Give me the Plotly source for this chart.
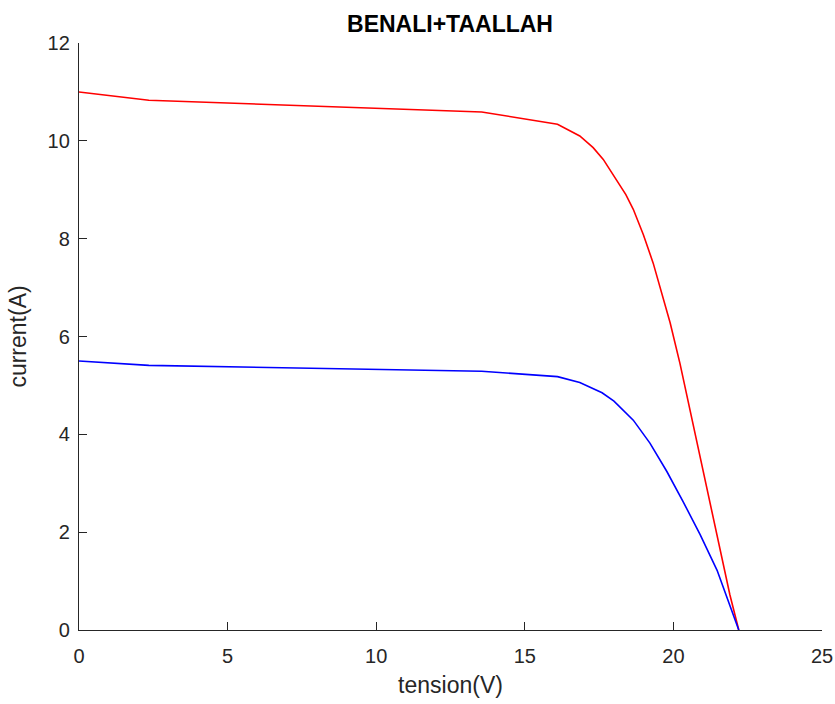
import plotly.graph_objects as go

# Data
v_red = [0, 2.35, 13.55, 16.1, 16.85, 17.3, 17.64, 18.08, 18.4, 18.65, 18.99, 19.32, 19.6, 19.89,
         20.22, 20.56, 20.9, 21.23, 21.57, 21.9, 22.2]
i_red = [11.0, 10.83, 10.59, 10.34, 10.10, 9.86, 9.62, 9.2, 8.9, 8.6, 8.08, 7.5, 6.92, 6.28,
         5.45, 4.5, 3.53, 2.58, 1.62, 0.72, 0]

v_blue = [0, 2.35, 13.55, 16.1, 16.85, 17.3, 17.6, 18.0, 18.3, 18.65, 19.21, 19.78, 20.33, 20.9, 21.47, 22.2]
i_blue = [5.5, 5.41, 5.29, 5.18, 5.06, 4.94, 4.85, 4.68, 4.5, 4.29, 3.82, 3.24, 2.62, 1.95, 1.22, 0]

x_ticks = [0, 5, 10, 15, 20, 25]
y_ticks = [0, 2, 4, 6, 8, 10, 12]

FONT = "Liberation Sans, Arial, sans-serif"
AX = "#262626"

fig = go.Figure()
fig.add_trace(go.Scatter(x=v_red, y=i_red, mode="lines",
                         line=dict(color="#FF0000", width=1.6), showlegend=False))
fig.add_trace(go.Scatter(x=v_blue, y=i_blue, mode="lines",
                         line=dict(color="#0000FF", width=1.6), showlegend=False))

fig.update_layout(
    width=835, height=704,
    margin=dict(l=79, r=13, t=43, b=74),
    paper_bgcolor="white", plot_bgcolor="white",
    font=dict(family=FONT, color=AX),
    title=dict(text="<b>BENALI+TAALLAH</b>", x=450 / 835, xanchor="center",
               y=1 - 24 / 704, yanchor="middle",
               font=dict(family=FONT, size=23, color="#000000")),
)
fig.update_xaxes(
    range=[0, 25], tickvals=x_ticks, ticktext=[str(t) for t in x_ticks],
    showgrid=False, zeroline=False, showline=True, linecolor=AX, linewidth=1.3,
    ticks="inside", ticklen=8, tickwidth=1.3, tickcolor=AX, ticklabelstandoff=8,
    tickfont=dict(family=FONT, size=20, color=AX), automargin=False,
    title=dict(text="tension(V)", font=dict(family=FONT, size=23, color=AX), standoff=10),
)
fig.update_yaxes(
    range=[0, 12], tickvals=y_ticks, ticktext=[str(t) for t in y_ticks],
    showgrid=False, zeroline=False, showline=True, linecolor=AX, linewidth=1.3,
    ticks="inside", ticklen=8, tickwidth=1.3, tickcolor=AX, ticklabelstandoff=4,
    tickfont=dict(family=FONT, size=20, color=AX), automargin=False,
    title=dict(text="current(A)", font=dict(family=FONT, size=23, color=AX), standoff=14),
)

fig.write_html("out.html", config={"displayModeBar": False},
               post_script="document.body.style.margin='0';")
